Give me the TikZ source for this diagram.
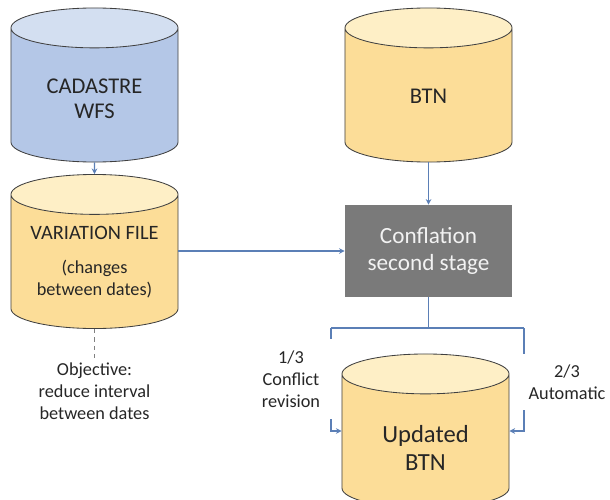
\documentclass[tikz,border=0pt]{standalone}
\usepackage{fontspec}
\setmainfont{Carlito}
\usepackage{tikz}
\usetikzlibrary{shapes.geometric, arrows.meta, positioning}
\definecolor{blueBody}{HTML}{B4C7E7}
\definecolor{blueTop}{HTML}{D3DFF1}
\definecolor{yellowBody}{HTML}{FCDD98}
\definecolor{yellowTop}{HTML}{FEEFC6}
\definecolor{procGray}{HTML}{7A7A7A}
\definecolor{linkBlue}{HTML}{5B7FB6}
\definecolor{inkGray}{HTML}{262626}
\definecolor{rimGray}{HTML}{404040}

\begin{document}
\begin{tikzpicture}[x=0.025cm, y=-0.025cm,
  db/.style={cylinder, shape border rotate=90, aspect=0.26, draw=rimGray,
             line width=0.6pt, minimum width=4.175cm, minimum height=3.85cm,
             text width=3.6cm, cylinder uses custom fill, anchor=shape center},
  dbtext/.style={align=center, text=inkGray, font=\fontsize{16}{18}\selectfont},
  dbblue/.style={db, cylinder body fill=blueBody, cylinder end fill=blueTop},
  dbyellow/.style={db, cylinder body fill=yellowBody, cylinder end fill=yellowTop},
  proc/.style={rectangle, fill=procGray, text=white!95!black,
               minimum width=4.175cm, minimum height=2.3cm, align=center,
               font=\fontsize{16.5}{19.5}\selectfont},
  arr/.style={-{Stealth[length=4pt, width=4pt]}, line width=0.8pt, linkBlue},
  link/.style={line width=0.8pt, linkBlue},
  lbl/.style={align=center, text=inkGray, font=\fontsize{13}{15.5}\selectfont},
]
\useasboundingbox (0,0) rectangle (610,499);

% Bases de datos
\node[dbblue, label={[dbtext]center:{CADASTRE\\WFS}}]
  at (94.5,85) (cad) {};
\node[dbyellow, label={[dbtext, font=\fontsize{13}{15.5}\selectfont, yshift=0.07cm]center:{%
  {\fontsize{14.5}{17}\selectfont VARIATION FILE}\\[9pt](changes\\between dates)}}]
  at (94.5,251.5) (var) {};
\node[dbyellow, label={[dbtext, yshift=0.05cm]center:BTN}]
  at (428.5,85) (btn) {};
\node[dbyellow, label={[dbtext, font=\fontsize{17.5}{20}\selectfont, yshift=-0.09cm]center:{Updated\\BTN}}]
  at (425.5,431) (upd) {};

% Proceso
\node[proc] at (428.5,251) (conf) {Conflation\\second stage};

% Nota
\node[lbl] at (94.5,391) (obj) {Objective:\\reduce interval\\between dates};

% Flechas
\draw[arr] (cad) -- (var);
\draw[arr] (btn) -- (conf);
\draw[arr] (var.east |- conf.west) -- (conf.west);
\draw[dashed, gray, line width=0.6pt] (var.south) -- (obj.north);

% Reparto hacia la BTN actualizada
\coordinate (fork)  at (428.5,328);
\coordinate (forkL) at (331,328);
\coordinate (forkR) at (524,328);
\draw[link] (conf.south) -- (fork);
\draw[link] (forkL) -- (forkR);
\draw[arr] (forkL) |- (upd.west |- upd.shape center);
\draw[arr] (forkR) |- (upd.east |- upd.shape center);

\node[lbl, fill=white, minimum width=2.1cm, minimum height=2cm] at (291,379) (manual) {1/3\\Conflict\\revision};
\node[lbl, fill=white, minimum width=2.3cm, minimum height=1.4cm] at (567,382) (auto) {2/3\\Automatic};

\end{tikzpicture}
\end{document}
